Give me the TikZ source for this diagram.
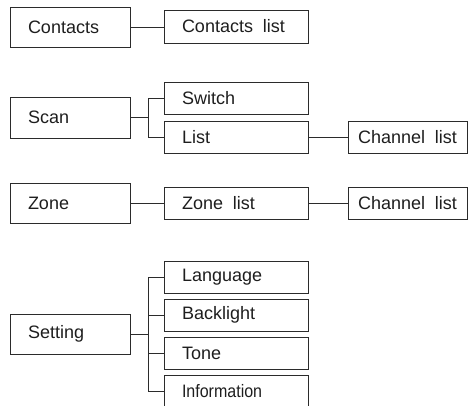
\documentclass[tikz,border=0pt]{standalone}
\usepackage{fontspec}
\usepackage{graphicx}
\setmainfont{Liberation Sans}
\definecolor{ln}{HTML}{2B2B2B}
\definecolor{tx}{HTML}{1E1E1E}
\begin{document}
\begin{tikzpicture}[x=1pt,y=-1pt,
  base/.style={draw=ln, line width=1pt, rectangle, align=left, inner ysep=0pt,
    text=tx, font=\fontsize{18}{20}\selectfont, anchor=center},
  parent/.style={base, inner xsep=18pt, text width=84pt, minimum height=40pt},
  child/.style={base, inner xsep=18pt, text width=108pt, minimum height=32pt},
  chan/.style={base, inner xsep=10pt, text width=99pt, minimum height=32pt},
  link/.style={draw=ln, line width=1pt}]
\useasboundingbox (0,0) rectangle (468,405);
\clip (0,0) rectangle (468,405);

% Contacts row
\node[parent] (contacts) at (70,27) {Contacts};
\node[child, minimum height=33pt] (clist) at (236,26.5) {Contacts\hspace{0.55em}list};
\draw[link] (contacts.east) -- (contacts.east -| clist.west);

% Scan row
\node[parent, minimum height=41pt] (scan) at (70,117.5) {Scan};
\node[child] (switch) at (236,98) {Switch};
\node[child] (list) at (236,137) {List};
\node[chan] (chlist1) at (407.5,137) {Channel\hspace{0.55em}list};
\coordinate (sj) at (148,117.5);
\draw[link] (scan.east) -- (sj);
\draw[link] (switch.west) -| (sj);
\draw[link] (list.west) -| (sj);
\draw[link] (list.east) -- (chlist1.west);

% Zone row
\node[parent] (zone) at (70,203) {Zone};
\node[child] (zlist) at (236,203) {Zone\hspace{0.55em}list};
\node[chan] (chlist2) at (407.5,203) {Channel\hspace{0.55em}list};
\draw[link] (zone.east) -- (zlist.west);
\draw[link] (zlist.east) -- (chlist2.west);

% Setting row
\node[parent] (setting) at (70,334) {Setting};
\node[child] (lang) at (236,277) {Language};
\node[child] (back) at (236,315) {Backlight};
\node[child] (tone) at (236,353.5) {Tone};
\node[child] (info) at (236,391) {\scalebox{0.89}[1]{Information}};
\coordinate (tj) at (148,334);
\draw[link] (setting.east) -- (tj);
\draw[link] (lang.west) -| (tj);
\draw[link] (back.west) -| (tj);
\draw[link] (tone.west) -| (tj);
\draw[link] (info.west) -| (tj);
\end{tikzpicture}
\end{document}
